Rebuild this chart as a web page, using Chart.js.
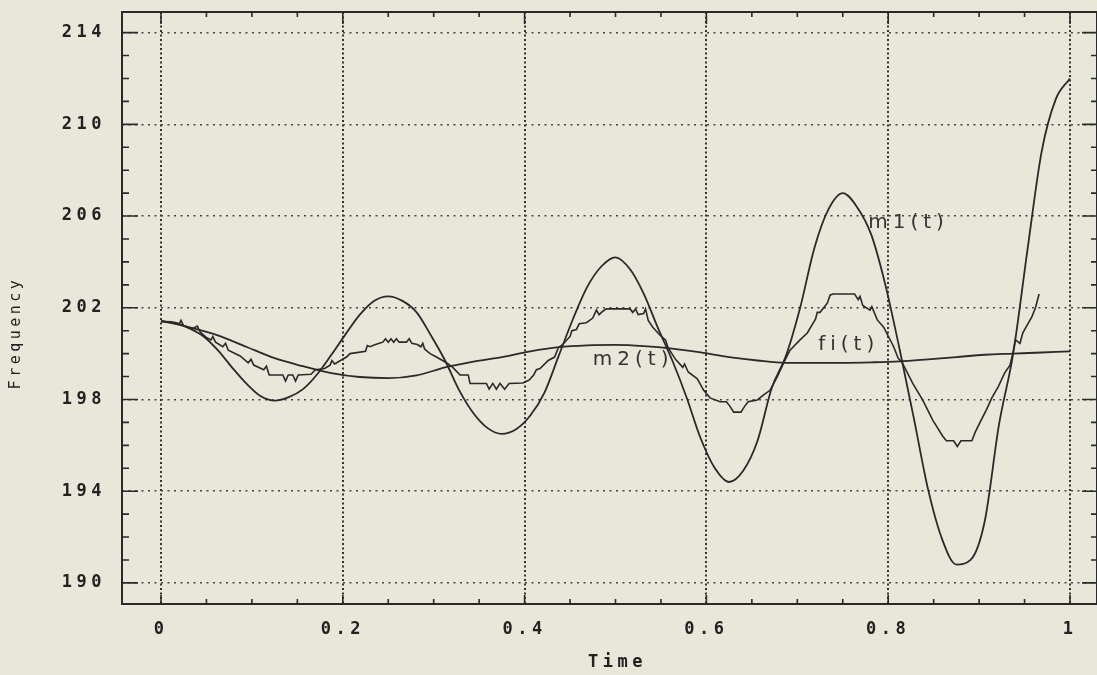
<!DOCTYPE html>
<html>
<head>
<meta charset="utf-8">
<script src="https://cdn.jsdelivr.net/npm/chart.js@4.4.1/dist/chart.umd.min.js"></script>
<style>
html,body{margin:0;padding:0;background:#e8e7d9;}
#wrap{width:1097px;height:675px;position:relative;}
</style>
</head>
<body>
<div id="wrap"><canvas id="c" width="1097" height="675"></canvas></div>
<script>
// ---------- data ----------
const m1Time = [0,0.015625,0.03125,0.046875,0.0625,0.078125,0.09375,0.109375,0.125,0.140625,0.15625,0.171875,0.1875,0.203125,0.21875,0.234375,0.25,0.265625,0.28125,0.296875,0.3125,0.328125,0.34375,0.359375,0.375,0.390625,0.40625,0.421875,0.4375,0.453125,0.46875,0.484375,0.5,0.515625,0.53125,0.546875,0.5625,0.578125,0.59375,0.609375,0.625,0.640625,0.65625,0.671875,0.6875,0.703125,0.71875,0.734375,0.75,0.765625,0.78125,0.796875,0.8125,0.828125,0.84375,0.859375,0.875,0.890625,0.90625,0.921875,0.9375,0.953125,0.96875,0.984375,1];
const m1Value = [201.4,201.35,201.1,200.75,200.15,199.4,198.7,198.15,197.95,198.1,198.45,199.1,199.95,200.85,201.7,202.3,202.5,202.3,201.8,200.8,199.7,198.4,197.4,196.75,196.5,196.7,197.3,198.3,199.9,201.5,202.9,203.8,204.2,203.7,202.6,201.1,199.7,198.1,196.3,195.0,194.4,194.9,196.2,198.5,199.9,202.0,204.6,206.3,207.0,206.4,205.2,203.0,200.2,197.2,194.1,191.9,190.8,191.0,192.7,196.9,200.0,204.5,208.8,211.1,212.0];

const m2Time = [0,0.03125,0.0625,0.09375,0.125,0.15625,0.1875,0.21875,0.25,0.28125,0.3125,0.34375,0.375,0.40625,0.4375,0.46875,0.5,0.53125,0.5625,0.59375,0.625,0.65625,0.6875,0.71875,0.75,0.78125,0.8125,0.84375,0.875,0.90625,0.9375,0.96875,1];
const m2Value = [201.43,201.15,200.8,200.3,199.8,199.45,199.15,198.98,198.93,199.05,199.4,199.65,199.85,200.1,200.28,200.36,200.38,200.33,200.22,200.05,199.85,199.7,199.6,199.6,199.6,199.62,199.66,199.75,199.85,199.95,200.0,200.05,200.1];

const fiTime = [0,0.012,0.02,0.022,0.025,0.035,0.04,0.043,0.05,0.055,0.057,0.06,0.068,0.071,0.074,0.087,0.096,0.099,0.102,0.113,0.116,0.119,0.134,0.137,0.14,0.145,0.148,0.151,0.165,0.17,0.18,0.186,0.188,0.191,0.204,0.208,0.225,0.227,0.23,0.236,0.244,0.247,0.25,0.253,0.256,0.259,0.262,0.27,0.273,0.276,0.282,0.286,0.288,0.29,0.296,0.303,0.314,0.321,0.329,0.338,0.34,0.358,0.361,0.365,0.369,0.373,0.378,0.383,0.398,0.405,0.41,0.413,0.417,0.426,0.433,0.437,0.442,0.45,0.452,0.457,0.46,0.468,0.475,0.479,0.482,0.486,0.49,0.516,0.519,0.522,0.525,0.531,0.533,0.536,0.541,0.549,0.555,0.558,0.566,0.574,0.576,0.58,0.59,0.597,0.604,0.615,0.622,0.626,0.63,0.638,0.642,0.646,0.652,0.656,0.663,0.67,0.678,0.685,0.692,0.703,0.711,0.72,0.722,0.725,0.733,0.736,0.739,0.763,0.767,0.769,0.772,0.78,0.782,0.788,0.795,0.806,0.811,0.815,0.827,0.838,0.849,0.86,0.864,0.872,0.876,0.88,0.892,0.896,0.901,0.908,0.914,0.921,0.928,0.934,0.937,0.94,0.945,0.948,0.953,0.958,0.962,0.966];
const fiValue = [201.43,201.35,201.3,201.45,201.2,201.1,201.2,200.95,200.7,200.6,200.75,200.5,200.3,200.45,200.15,199.9,199.6,199.75,199.5,199.3,199.45,199.07,199.07,198.8,199.07,199.07,198.8,199.07,199.1,199.3,199.35,199.5,199.7,199.55,199.85,200.0,200.1,200.35,200.3,200.4,200.5,200.65,200.5,200.65,200.5,200.65,200.5,200.5,200.65,200.45,200.4,200.3,200.45,200.2,200.0,199.85,199.6,199.4,199.07,199.07,198.7,198.7,198.45,198.7,198.45,198.7,198.45,198.7,198.72,198.85,199.07,199.3,199.35,199.7,199.85,200.25,200.4,200.75,201.0,201.05,201.3,201.35,201.55,201.9,201.7,201.85,201.95,201.95,201.8,201.95,201.7,201.75,201.95,201.45,201.15,200.8,200.6,200.25,199.75,199.4,199.55,199.2,198.9,198.4,198.07,197.9,197.9,197.7,197.45,197.45,197.7,197.9,197.95,197.98,198.2,198.4,199.0,199.6,200.15,200.6,200.9,201.5,201.8,201.8,202.2,202.55,202.6,202.6,202.35,202.5,202.1,201.9,202.05,201.47,201.15,200.3,199.8,199.64,198.7,197.97,197.1,196.4,196.2,196.2,195.95,196.2,196.2,196.6,197.0,197.55,198.07,198.55,199.15,199.5,200.0,200.6,200.45,200.9,201.25,201.6,202.0,202.6];

const xTickValues = [0,0.2,0.4,0.6,0.8,1];
const xTickLabels = ['0','0.2','0.4','0.6','0.8','1'];
const yTickValues = [190,194,198,202,206,210,214];
const yTickLabels = ['190','194','198','202','206','210','214'];

const curveNames = ['m1(t)','m2(t)','fi(t)'];
const xTitle = 'Time';
const yTitle = 'Frequency';

// ---------- style / layout ----------
const BG = '#e8e7d9';
const INK = '#2a2a2a';
const labelAnchors = [[0.778,205.7],[0.475,199.73],[0.723,200.38]];

function pts(t, v){ return t.map((tt,i)=>({x:tt, y:v[i]})); }

const decor = {
  id:'decor',
  beforeDraw(chart){
    const ctx = chart.ctx;
    ctx.save(); ctx.fillStyle = BG; ctx.fillRect(0,0,chart.width,chart.height); ctx.restore();
    ctx.letterSpacing = '4.5px';
  },
  afterDraw(chart){
    const {ctx, chartArea:a, scales:{x,y}} = chart;
    ctx.save();
    ctx.setLineDash([]);
    ctx.strokeStyle = INK;
    ctx.lineWidth = 2;
    ctx.strokeRect(a.left, a.top, a.right - a.left, a.bottom - a.top);
    ctx.lineWidth = 1.6;
    ctx.beginPath();
    for (let i = 0; i <= 20; i++) {
      const v = i * 0.05;
      const px = x.getPixelForValue(v);
      const major = i % 4 === 0;
      ctx.moveTo(px, a.bottom); ctx.lineTo(px, a.bottom - (major ? 9 : 5));
      ctx.moveTo(px, a.top); ctx.lineTo(px, a.top + (major ? 12 : 5));
    }
    for (let v = 190; v <= 214; v++) {
      const py = y.getPixelForValue(v);
      const major = (v - 190) % 4 === 0;
      ctx.moveTo(a.left, py); ctx.lineTo(a.left + (major ? 16 : 7), py);
      ctx.moveTo(a.right, py); ctx.lineTo(a.right - (major ? 15 : 6), py);
    }
    ctx.stroke();

    // curve names
    ctx.fillStyle = '#333';
    ctx.font = '20px "DejaVu Sans"';
    ctx.letterSpacing = '5px';
    ctx.textAlign = 'left';
    ctx.textBaseline = 'middle';
    curveNames.forEach((n,i)=>{
      ctx.fillText(n, x.getPixelForValue(labelAnchors[i][0]), y.getPixelForValue(labelAnchors[i][1]));
    });

    // axis titles
    ctx.fillStyle = '#222';
    ctx.font = 'bold 17px "DejaVu Sans Mono"';
    ctx.letterSpacing = '4.5px';
    ctx.textAlign = 'center';
    ctx.fillText(xTitle, x.getPixelForValue(0.5) + 2, 663);
    ctx.save();
    ctx.translate(16, 333);
    ctx.rotate(-Math.PI/2);
    ctx.font = '15px "DejaVu Sans Mono"';
    ctx.letterSpacing = '3.5px';
    ctx.fillText(yTitle, 0, 0);
    ctx.restore();
    ctx.restore();
  }
};

const lineStyle = {borderColor: INK, borderWidth: 1.8, pointRadius: 0, fill: false};

new Chart(document.getElementById('c'), {
  type: 'line',
  data: {
    datasets: [
      Object.assign({label: curveNames[0], data: pts(m1Time, m1Value), cubicInterpolationMode: 'monotone'}, lineStyle),
      Object.assign({label: curveNames[1], data: pts(m2Time, m2Value), cubicInterpolationMode: 'monotone'}, lineStyle),
      Object.assign({label: curveNames[2], data: pts(fiTime, fiValue), tension: 0}, lineStyle, {borderWidth: 1.6})
    ]
  },
  options: {
    responsive: false,
    animation: false,
    devicePixelRatio: 1,
    layout: {padding: {left: 0, right: 0, top: 12, bottom: 0}},
    plugins: {legend: {display: false}, tooltip: {enabled: false}},
    scales: {
      x: {
        type: 'linear',
        min: -0.0429,
        max: 1.0297,
        afterFit: s => { s.height = 71; s.paddingLeft = 0; s.paddingRight = 0; },
        afterBuildTicks: s => { s.ticks = xTickValues.map(v => ({value: v})); },
        ticks: {
          callback: (v, i) => xTickLabels[i],
          color: '#222',
          padding: 15,
          maxRotation: 0,
          autoSkip: false,
          font: {family: 'DejaVu Sans Mono', size: 17, weight: 'bold'}
        },
        grid: {color: '#333', lineWidth: 2, drawTicks: false},
        border: {display: false, dash: [2, 2.5]}
      },
      y: {
        type: 'linear',
        min: 189.08,
        max: 214.9,
        afterFit: s => { s.width = 122; s.paddingTop = 0; s.paddingBottom = 0; },
        afterBuildTicks: s => { s.ticks = yTickValues.map(v => ({value: v})); },
        ticks: {
          callback: (v, i) => yTickLabels[i],
          color: '#222',
          padding: 16,
          autoSkip: false,
          font: {family: 'DejaVu Sans Mono', size: 17, weight: 'bold'}
        },
        grid: {color: '#444', lineWidth: 1.5, drawTicks: false},
        border: {display: false, dash: [2, 4.5]}
      }
    }
  },
  plugins: [decor]
});
</script>
</body>
</html>
